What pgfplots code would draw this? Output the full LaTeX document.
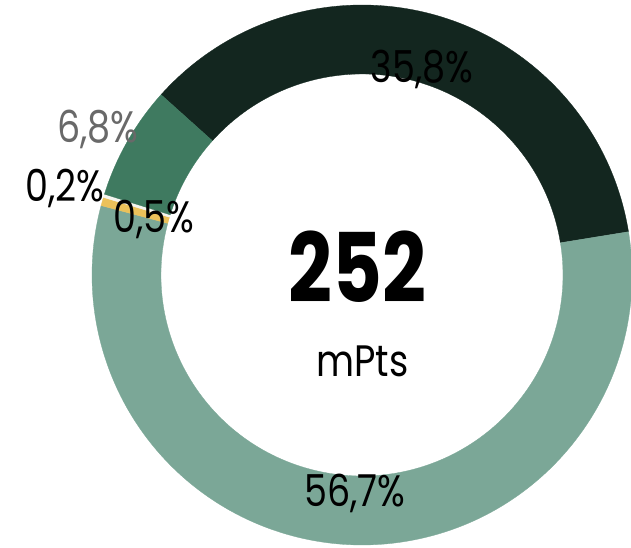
\documentclass[border=0pt]{standalone}
\usepackage{pgfplots}
\pgfplotsset{compat=1.18}
\usepackage{pgfplotstable}
\usepackage{fontspec}
\setmainfont{Poppins}
\definecolor{cdark}{RGB}{19,38,31}
\definecolor{clight}{RGB}{123,167,151}
\definecolor{cyellow}{RGB}{235,193,90}
\definecolor{cwhite}{RGB}{245,245,240}
\definecolor{cmed}{RGB}{63,122,96}
\definecolor{cgrey}{RGB}{105,105,105}
\pgfplotstableread{
pct color
35.8 cdark
56.7 clight
0.5 cyellow
0.2 cwhite
6.8 cmed
}\slices
\begin{document}
\begin{tikzpicture}
\clip (0,0) rectangle (631pt,548pt);
\begin{axis}[width=631pt,height=548pt,scale only axis,
  xmin=0,xmax=631,ymin=0,ymax=548,hide axis,clip=false]
\def\cum{0}
\pgfplotsforeachungrouped \i in {0,...,4}{%
  \pgfplotstablegetelem{\i}{pct}\of\slices
  \pgfmathsetmacro{\p}{\pgfplotsretval}%
  \pgfplotstablegetelem{\i}{color}\of\slices
  \edef\col{\pgfplotsretval}%
  \pgfmathsetmacro{\a}{138.1-3.6*\cum}%
  \pgfmathsetmacro{\b}{\a-3.6*\p}%
  \edef\temp{\noexpand\fill[\col,draw=\col,line width=0.3pt]
    ([shift={(axis cs:362,273)}]\a:270pt) arc[start angle=\a,end angle=\b,radius=270pt]
    -- ([shift={(axis cs:362,273)}]\b:201pt) arc[start angle=\b,end angle=\a,radius=201pt] -- cycle;}%
  \temp
  \pgfmathsetmacro{\cum}{\cum+\p}%
}
\tikzset{lab/.style={anchor=base,font=\fontsize{44}{48}\selectfont,xscale=0.83}}
\node[lab] at (axis cs:422,465) {35,8\%};
\node[lab,text=cgrey] at (axis cs:98,405) {6,8\%};
\node[lab] at (axis cs:65,346) {0,2\%};
\node[lab] at (axis cs:154,315) {0,5\%};
\node[lab] at (axis cs:355,41) {56,7\%};
\node[anchor=base,font=\fontsize{96}{100}\selectfont\bfseries,xscale=0.8] at (axis cs:357.5,245) {252};
\node[lab,xscale=1.01] at (axis cs:362.5,171) {mPts};
\end{axis}
\end{tikzpicture}
\end{document}
